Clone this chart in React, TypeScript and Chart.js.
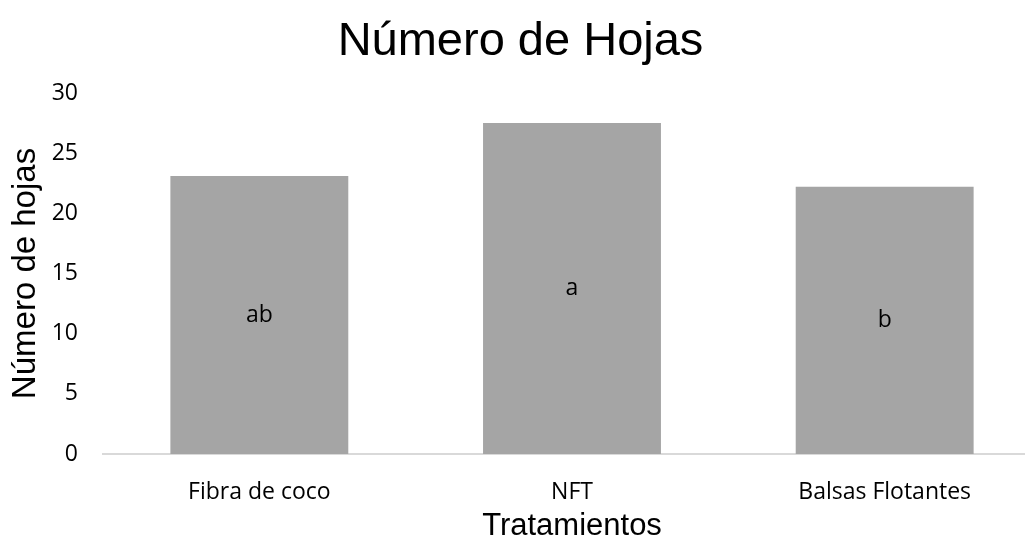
import React, { useEffect, useRef } from "react";
import { Chart, registerables } from "chart.js";

Chart.register(...registerables);

const categories = ["Fibra de coco", "NFT", "Balsas Flotantes"];
const values = [23.1, 27.5, 22.2];
const letters = ["ab", "a", "b"];
const yMin = 0;
const yMax = 30;
const yStep = 5;
const titleText = "Número de Hojas";
const yTitle = "Número de hojas";
const xTitle = "Tratamientos";

const tickFont = "'Open Sans', sans-serif";
const arialFont = "'Liberation Sans', Arial, sans-serif";

const barLetters = {
  id: "barLetters",
  afterDatasetsDraw(chart: any) {
    const meta = chart.getDatasetMeta(0);
    const ctx = chart.ctx;
    ctx.save();
    ctx.font = `23px ${tickFont}`;
    ctx.fillStyle = "#000000";
    ctx.textAlign = "center";
    ctx.textBaseline = "middle";
    meta.data.forEach((bar: any, i: number) => {
      const p = bar.getProps(["x", "y", "base"], true);
      ctx.fillText(letters[i], p.x, (p.y + p.base) / 2);
    });
    ctx.restore();
  },
};

export default function App() {
  const ref = useRef<HTMLCanvasElement | null>(null);
  useEffect(() => {
    if (!ref.current) return;
    const chart = new Chart(ref.current, {
      type: "bar",
      data: {
        labels: categories,
        datasets: [
          {
            data: values,
            backgroundColor: "#A5A5A5",
            borderWidth: 0,
            barPercentage: 0.569,
            categoryPercentage: 1,
          },
        ],
      },
      options: {
        animation: false,
        responsive: true,
        maintainAspectRatio: false,
        layout: { padding: { left: 0, right: 5, top: 0, bottom: 0 } },
        plugins: {
          legend: { display: false },
          tooltip: { enabled: false },
          title: {
            display: true,
            text: titleText,
            color: "#000000",
            font: { family: arialFont, size: 47, weight: "normal", lineHeight: 1.2 },
            padding: { top: 14, bottom: 22.6 },
          },
        },
        scales: {
          x: {
            grid: { display: false, drawTicks: false },
            border: { display: true, color: "#D9D9D9", width: 2 },
            ticks: {
              color: "#000000",
              font: { family: tickFont, size: 23, lineHeight: 1.2 },
              padding: 25,
              maxRotation: 0,
            },
            title: {
              display: true,
              text: xTitle,
              color: "#000000",
              font: { family: arialFont, size: 31, lineHeight: 1.1 },
              padding: { top: 0, bottom: 0 },
            },
            afterFit(scale: any) {
              scale.height = 90;
            },
          },
          y: {
            min: yMin,
            max: yMax,
            grid: { display: false, drawTicks: false },
            border: { display: false },
            ticks: {
              stepSize: yStep,
              color: "#000000",
              font: { family: tickFont, size: 23, lineHeight: 1.2 },
              padding: 25,
            },
            title: {
              display: true,
              text: yTitle,
              color: "#000000",
              font: { family: arialFont, size: 33, lineHeight: 1.2 },
              padding: { top: 6, bottom: 0 },
            },
            afterFit(scale: any) {
              scale.width = 103;
            },
          },
        },
      },
      plugins: [barLetters],
    });
    return () => chart.destroy();
  }, []);

  return (
    <div
      style={{
        position: "fixed",
        left: 0,
        top: 0,
        width: 1025,
        height: 544,
        overflow: "hidden",
        background: "#ffffff",
      }}
    >
      <div style={{ position: "relative", width: 1046, height: 544 }}>
        <canvas ref={ref} />
      </div>
    </div>
  );
}
